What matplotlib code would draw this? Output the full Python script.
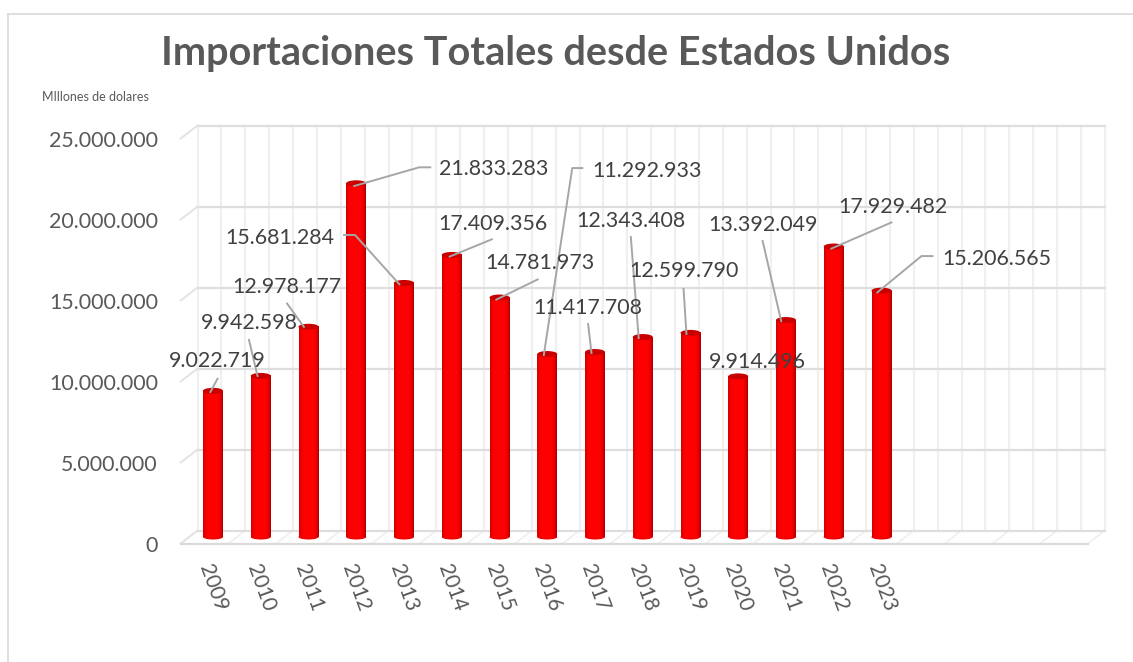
import numpy as np
import matplotlib
matplotlib.use('Agg')
import matplotlib.pyplot as plt
from matplotlib.lines import Line2D
from matplotlib.patches import Ellipse
from matplotlib.colors import LinearSegmentedColormap
from matplotlib.transforms import ScaledTranslation

plt.rcParams['font.family'] = ['Lato', 'DejaVu Sans']

# Chart data
years = ['2009', '2010', '2011', '2012', '2013', '2014', '2015', '2016', '2017', '2018', '2019', '2020', '2021', '2022', '2023']
values = [9022719, 9942598, 12978177, 21833283, 15681284, 17409356, 14781973, 11292933, 11417708, 12343408, 12599790, 9914496, 13392049, 17929482, 15206565]
yticks = [0, 5000000, 10000000, 15000000, 20000000, 25000000]
n_categories = 19  # the axis keeps 4 empty categories after 2023
title = 'Importaciones Totales desde Estados Unidos'
subtitle = 'MIllones de dolares'

# Label and leader placement, pixels from the top of each bar (right, down)
label_offsets = [(4.5, -32), (-11, -55), (-22, -42), (137, -16), (-124, -47), (41.5, -33), (40, -36.5), (100, -185),
                 (-7, -46), (-12, -118), (-6.5, -64), (18.7, -16.4), (-22.6, -97), (59.6, -41.5), (115, -33.6)]
leader_offsets = [
    [(-3, 2), (5, -13)],
    [(-3, 1), (-12, -37)],
    [(-4, 1), (-22, -24)],
    [(-3, 3), (63, -16), (75, -16)],
    [(-4, 2), (-49, -48), (-61, -48)],
    [(-3, 2), (41, -16)],
    [(-4, 2.5), (39, -18.5)],
    [(-3.6, 2), (25, -186), (36, -186)],
    [(-3.4, 2), (-7, -29)],
    [(-4, 2), (-12, -101)],
    [(-4, 2), (-7, -45)],
    None,
    [(-4.6, 2), (-23.6, -80)],
    [(-3.4, 2.5), (58.6, -24.5)],
    [(-5, 2.4), (40, -34.6), (52, -34.6)],
]

W, H = 1133, 662
PX_CAT = 47.75          # pixels per category
PX_VAL = 81 / 5000000   # pixels per unit
DEPTH_X, DEPTH_Y = 8.4, 6.5  # half depth of the 3D box, pixels

fig = plt.figure(figsize=(W / 100, H / 100), dpi=100)
ax = fig.add_axes([(213 - 0.5 * PX_CAT) / W, (H - 537) / H, n_categories * PX_CAT / W, 25000000 * PX_VAL / H])
ax.set_xlim(-0.5, n_categories - 0.5)
ax.set_ylim(0, 25000000)
ax.spines[['bottom', 'top', 'right', 'left']].set_visible(False)

dx_depth = DEPTH_X / PX_CAT
dy_depth = DEPTH_Y / PX_VAL
x_edges = np.arange(n_categories + 1) - 0.5
x_grid = np.arange(2 * n_categories + 1) / 2 - 0.5

# Back wall, side wall and floor
for x in x_grid:
    ax.plot([x + dx_depth] * 2, [dy_depth, 25000000 + dy_depth], color='#F0F0F0', lw=1.6, zorder=1, clip_on=False)
for y in yticks:
    ax.plot([x_edges[0] + dx_depth, x_edges[-1] + dx_depth], [y + dy_depth] * 2, color='#DEDEDE', lw=1.6, zorder=1.2, clip_on=False)
    ax.plot([x_edges[0] - dx_depth, x_edges[0] + dx_depth], [y - dy_depth, y + dy_depth], color='#E3E3E3', lw=1.4, zorder=1.2, clip_on=False)
for x in x_edges:
    ax.plot([x - dx_depth, x + dx_depth], [-dy_depth, dy_depth], color='#EFEFEF', lw=1.2, zorder=1.1, clip_on=False)
ax.plot([x_edges[0] - dx_depth, x_edges[-1] - dx_depth], [-dy_depth, -dy_depth], color='#DADADA', lw=1.6, zorder=1.3, clip_on=False)

# Cylinders: a bar with a shaded face, plus its top and bottom ellipses
bar_width = 20 / PX_CAT
positions = np.arange(len(years))
bars = ax.bar(positions, values, width=bar_width, color='#FF0000', linewidth=0, zorder=3)
shade = LinearSegmentedColormap.from_list('cyl', [(0, '#D00000'), (0.1, '#F00000'), (0.25, '#FF0000'), (0.75, '#FF0000'),
                                                  (0.9, '#E00000'), (1, '#A80000')])
for bar in bars:
    x0, w, h = bar.get_x(), bar.get_width(), bar.get_height()
    ax.imshow(np.linspace(0, 1, 64).reshape(1, -1), cmap=shade, extent=(x0, x0 + w, 0, h), aspect='auto', zorder=3.1)
    ax.add_patch(Ellipse((x0 + w / 2, 0), w, 5 / PX_VAL, facecolor='#F40000', linewidth=0, zorder=3, clip_on=False))
    ax.add_patch(Ellipse((x0 + w / 2, h), w, 6 / PX_VAL, facecolor='#C80000', linewidth=0, zorder=3.2, clip_on=False))
ax.set_xlim(-0.5, n_categories - 0.5)
ax.set_ylim(0, 25000000)

# Data labels and their leader lines
def fmt(v):
    return f'{v:,}'.replace(',', '.')

for i, v in enumerate(values):
    lx, ly = label_offsets[i]
    ax.text(i + lx / PX_CAT, v - ly / PX_VAL, fmt(v), ha='center', va='center_baseline', fontsize=15.4,
            color='#404040', zorder=5, clip_on=False)
    if leader_offsets[i]:
        xs = [i + p[0] / PX_CAT for p in leader_offsets[i]]
        ys = [v - p[1] / PX_VAL for p in leader_offsets[i]]
        ax.plot(xs, ys, color='#A6A6A6', lw=1.4, zorder=4, clip_on=False, solid_capstyle='butt')

# Axis labels
ax.set_yticks(yticks)
ax.set_yticklabels([fmt(t) for t in yticks], fontsize=15.4, color='#595959')
ax.tick_params(axis='y', length=0, pad=22.5)
shift = ScaledTranslation(0, -7 / 100, fig.dpi_scale_trans)
for lab in ax.get_yticklabels():
    lab.set_transform(lab.get_transform() + shift)
ax.set_xticks(positions)
ax.set_xticklabels(years, rotation=-70, ha='center', va='top', fontsize=15, color='#595959')
ax.tick_params(axis='x', length=0, pad=18)

# Title, unit note and the chart frame
fig.text(555.5 / W, 1 - 53 / H, title, ha='center', va='center', fontsize=28.5, fontweight='bold', color='#595959')
fig.text(42 / W, 1 - 97 / H, subtitle, ha='left', va='center', fontsize=9, color='#595959')
fig.add_artist(Line2D([8 / W, 8 / W], [0, 1 - 13.5 / H], color='#D9D9D9', lw=1.2))
fig.add_artist(Line2D([8 / W, 1], [1 - 13.5 / H, 1 - 13.5 / H], color='#D9D9D9', lw=1.2))

fig.savefig('out.png', dpi=100)
